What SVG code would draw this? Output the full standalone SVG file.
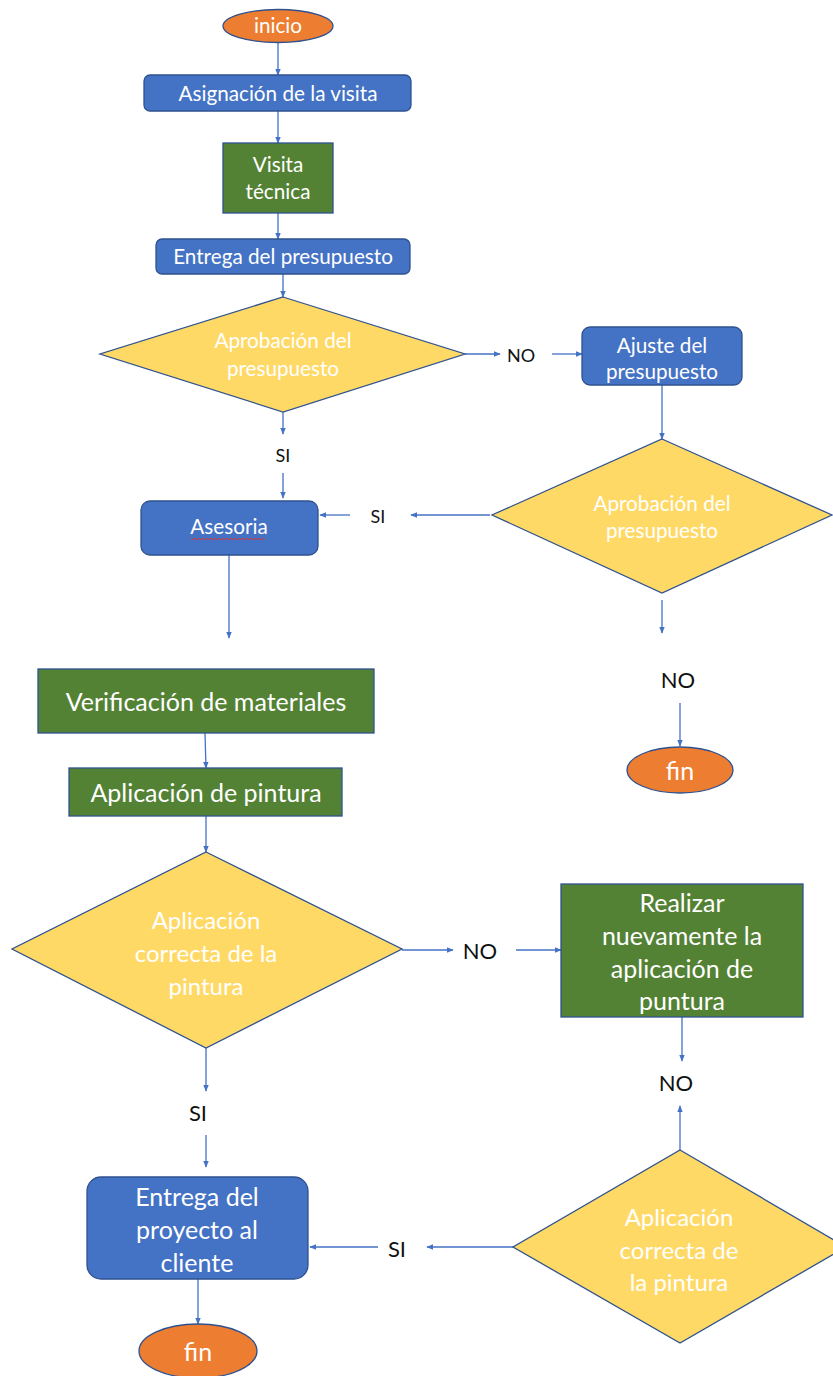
<svg xmlns="http://www.w3.org/2000/svg" width="833" height="1376" viewBox="0 0 833 1376">
<style>
.blue{fill:#4472C4;stroke:#2F528F;stroke-width:1.3}
.green{fill:#548235;stroke:#2F528F;stroke-width:1.3}
.yellow{fill:#FFD966;stroke:#2F528F;stroke-width:1.3}
.orange{fill:#ED7D31;stroke:#2F528F;stroke-width:1.3}
.t{font-family:Lato,"Liberation Sans",sans-serif;fill:#ffffff;text-anchor:middle;dominant-baseline:central}
.s{font-size:20.7px}
.l{font-size:25px}
.m{font-size:24px}
.ls{font-size:18px}
.ll{font-size:22px}
.lab{font-family:Lato,"Liberation Sans",sans-serif;fill:#111111;text-anchor:middle;dominant-baseline:central}
.c{stroke:#4472C4;stroke-width:1.3;fill:none;marker-end:url(#ah)}
</style>
<defs>
<marker id="ah" viewBox="0 0 10 10" refX="9" refY="5" markerWidth="7" markerHeight="7" markerUnits="userSpaceOnUse" orient="auto">
<path d="M0,1 L10,5 L0,9 z" fill="#4472C4"/>
</marker>
</defs>
<rect width="833" height="1376" fill="#ffffff"/>
<g id="connectors">
<line class="c" x1="278" y1="43" x2="278" y2="75"/>
<line class="c" x1="278" y1="111" x2="278" y2="143"/>
<line class="c" x1="278" y1="213" x2="278" y2="239"/>
<line class="c" x1="283" y1="274" x2="283" y2="297"/>
<line class="c" x1="465" y1="354" x2="500" y2="354"/>
<line class="c" x1="552" y1="354" x2="582" y2="354"/>
<line class="c" x1="662" y1="385" x2="662" y2="439"/>
<line class="c" x1="283" y1="412" x2="283" y2="434"/>
<line class="c" x1="283" y1="473" x2="283" y2="498"/>
<line class="c" x1="490" y1="515" x2="411" y2="515"/>
<line class="c" x1="350" y1="515" x2="320" y2="515"/>
<line class="c" x1="229" y1="555" x2="229" y2="638"/>
<line class="c" x1="662" y1="600" x2="662" y2="633"/>
<line class="c" x1="680" y1="703" x2="680" y2="746"/>
<line class="c" x1="205" y1="733" x2="206" y2="768"/>
<line class="c" x1="206" y1="816" x2="206" y2="852"/>
<line class="c" x1="402" y1="950" x2="453" y2="950"/>
<line class="c" x1="516" y1="950" x2="561" y2="950"/>
<line class="c" x1="682" y1="1017" x2="682" y2="1061"/>
<line class="c" x1="680" y1="1150" x2="680" y2="1106"/>
<line class="c" x1="206" y1="1048" x2="206" y2="1091"/>
<line class="c" x1="206" y1="1135" x2="206" y2="1167"/>
<line class="c" x1="513" y1="1247" x2="427" y2="1247"/>
<line class="c" x1="378" y1="1247" x2="310" y2="1247"/>
<line class="c" x1="198" y1="1279" x2="198" y2="1324"/>
</g>
<g id="labels">
<text class="lab ls" x="521" y="355">NO</text>
<text class="lab ls" x="283" y="455">SI</text>
<text class="lab ls" x="378" y="516">SI</text>
<text class="lab ll" x="678" y="679">NO</text>
<text class="lab ll" x="480" y="950">NO</text>
<text class="lab ll" x="676" y="1082">NO</text>
<text class="lab ll" x="198" y="1112">SI</text>
<text class="lab ll" x="397" y="1248">SI</text>
</g>
<g id="inicio">
<ellipse class="orange" cx="278" cy="26" rx="55" ry="16.5"/>
<text class="t s" x="278" y="25">inicio</text>
</g>
<g id="asignacion">
<rect class="blue" x="144" y="75" width="267" height="36" rx="6"/>
<text class="t s" x="278" y="93">Asignación de la visita</text>
</g>
<g id="visita">
<rect class="green" x="223" y="143" width="110" height="70"/>
<text class="t s" x="278" y="164">Visita</text>
<text class="t s" x="278" y="191">técnica</text>
</g>
<g id="entrega-presupuesto">
<rect class="blue" x="156" y="239" width="254" height="35" rx="6"/>
<text class="t s" x="283" y="256">Entrega del presupuesto</text>
</g>
<g id="aprobacion1">
<polygon class="yellow" points="283,297 465,354 283,412 100,354"/>
<text class="t s" x="283" y="340">Aprobación del</text>
<text class="t s" x="283" y="368">presupuesto</text>
</g>
<g id="ajuste">
<rect class="blue" x="582" y="327" width="160" height="58" rx="8"/>
<text class="t s" x="662" y="345">Ajuste del</text>
<text class="t s" x="662" y="371">presupuesto</text>
</g>
<g id="aprobacion2">
<polygon class="yellow" points="662,439 832,515 662,593 492,515"/>
<text class="t s" x="662" y="503">Aprobación del</text>
<text class="t s" x="662" y="530">presupuesto</text>
</g>
<g id="asesoria">
<rect class="blue" x="141" y="501" width="177" height="54" rx="9"/>
<text class="t s" x="229" y="526">Asesoria</text>
<path d="M191,538 l2,2 l2,-2 l2,2 l2,-2 l2,2 l2,-2 l2,2 l2,-2 l2,2 l2,-2 l2,2 l2,-2 l2,2 l2,-2 l2,2 l2,-2 l2,2 l2,-2 l2,2 l2,-2 l2,2 l2,-2 l2,2 l2,-2 l2,2 l2,-2 l2,2 l2,-2 l2,2 l2,-2 l2,2 l2,-2 l2,2 l2,-2 l2,2 l2,-2 l2,2" fill="none" stroke="#E03030" stroke-width="0.9"/>
</g>
<g id="fin1">
<ellipse class="orange" cx="680" cy="770" rx="53" ry="23"/>
<text class="t l" x="680" y="770">fin</text>
</g>
<g id="verificacion">
<rect class="green" x="38" y="669" width="336" height="64"/>
<text class="t l" x="206" y="701">Verificación de materiales</text>
</g>
<g id="aplicacion-pintura">
<rect class="green" x="69" y="768" width="273" height="48"/>
<text class="t l" x="206" y="792">Aplicación de pintura</text>
</g>
<g id="correcta1">
<polygon class="yellow" points="206,852 402,949 206,1048 12,949"/>
<text class="t m" x="206" y="919">Aplicación</text>
<text class="t m" x="206" y="952">correcta de la</text>
<text class="t m" x="206" y="985">pintura</text>
</g>
<g id="realizar">
<rect class="green" x="561" y="884" width="242" height="133"/>
<text class="t l" x="682" y="902">Realizar</text>
<text class="t l" x="682" y="935">nuevamente la</text>
<text class="t l" x="682" y="968">aplicación de</text>
<text class="t l" x="682" y="1000">puntura</text>
</g>
<g id="correcta2">
<polygon class="yellow" points="680,1150 846,1247 680,1343 513,1247"/>
<text class="t m" x="679" y="1216">Aplicación</text>
<text class="t m" x="679" y="1249">correcta de</text>
<text class="t m" x="679" y="1281">la pintura</text>
</g>
<g id="entrega-proyecto">
<rect class="blue" x="87" y="1177" width="221" height="102" rx="14"/>
<text class="t l" x="197" y="1196">Entrega del</text>
<text class="t l" x="197" y="1229">proyecto al</text>
<text class="t l" x="197" y="1262">cliente</text>
</g>
<g id="fin2">
<ellipse class="orange" cx="198" cy="1351" rx="59" ry="27"/>
<text class="t l" x="198" y="1351">fin</text>
</g>
</svg>
